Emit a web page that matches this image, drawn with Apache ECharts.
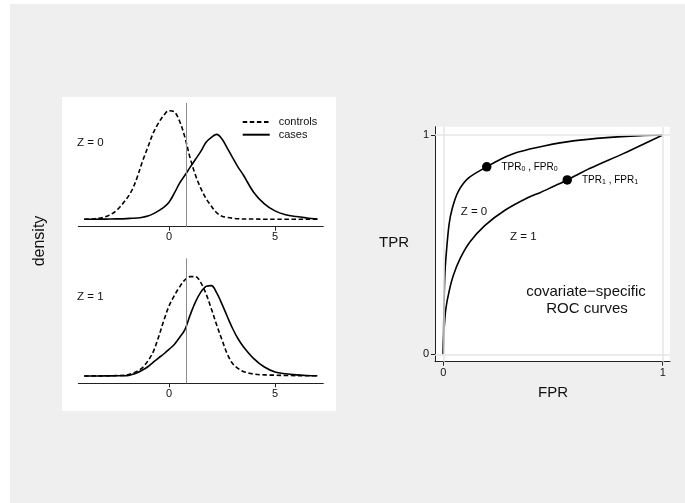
<!DOCTYPE html>
<html><head><meta charset="utf-8">
<script src="https://cdn.jsdelivr.net/npm/echarts@6/dist/echarts.min.js"></script>
<style>html,body{margin:0;padding:0;background:#fff}#c{width:685px;height:503px}</style>
</head><body><div id="c"></div>
<script>
// ---- data ----
const densX = [-4,-3.5,-3,-2.5,-2,-1.75,-1.5,-1.25,-1,-0.75,-0.5,-0.25,0,0.25,0.5,0.75,1,1.25,1.5,1.75,2,2.25,2.5,2.75,3,3.25,3.5,4,4.5,5,5.5,6,6.5,7];
const controlsZ0 = [0,0.002,0.009,0.031,0.076,0.107,0.155,0.214,0.265,0.317,0.354,0.383,0.400,0.396,0.361,0.302,0.225,0.162,0.114,0.076,0.048,0.024,0.011,0.007,0.004,0.002,0.001,0.001,0,0,0,0,0,0];
const casesZ0 = [0,0.0004,0.0007,0.0015,0.0026,0.0037,0.0048,0.0074,0.012,0.020,0.031,0.044,0.063,0.096,0.133,0.162,0.192,0.221,0.250,0.284,0.302,0.313,0.296,0.262,0.227,0.193,0.164,0.099,0.057,0.031,0.017,0.010,0.005,0.001];
const controlsZ1 = [0,0.0004,0.0007,0.0015,0.0033,0.0092,0.018,0.031,0.055,0.088,0.142,0.203,0.258,0.296,0.328,0.354,0.366,0.366,0.344,0.302,0.247,0.188,0.133,0.081,0.046,0.028,0.017,0.007,0.004,0.003,0.002,0.0015,0.001,0.001];
const casesZ1 = [0,0,0.0004,0.0007,0.0015,0.0055,0.012,0.022,0.034,0.050,0.066,0.081,0.098,0.116,0.142,0.171,0.225,0.273,0.309,0.330,0.333,0.306,0.265,0.219,0.175,0.138,0.109,0.064,0.033,0.015,0.008,0.004,0.002,0.001];
const threshold = 0.8;
const densTickValues = [0, 5];

const rocFPR0 = [0,0.002,0.004,0.007,0.012,0.026,0.041,0.068,0.114,0.198,0.266,0.342,0.464,0.592,0.745,0.897,1];
const rocTPR0 = [0,0.15,0.26,0.36,0.44,0.59,0.666,0.742,0.803,0.855,0.892,0.922,0.951,0.973,0.988,0.997,1];
const rocFPR1 = [0,0.002,0.005,0.012,0.026,0.046,0.076,0.122,0.19,0.281,0.387,0.441,0.501,0.565,0.669,0.82,1];
const rocTPR1 = [0,0.08,0.134,0.21,0.285,0.36,0.435,0.513,0.588,0.657,0.715,0.737,0.765,0.795,0.848,0.915,1];
const pointFPR = [0.198, 0.565];
const pointTPR = [0.855, 0.795];
const pointLabels = ['{n|TPR}{s|0}{n| , FPR}{s|0}', '{n|TPR}{s|1}{n| , FPR}{s|1}'];
const rocTickValues = [0, 1];

// ---- chart ----
const FONT = '"Liberation Sans", Arial, Helvetica, sans-serif';
const TXT = '#111';
const pairs = (xs, ys) => xs.map((x, i) => [x, ys[i]]);

const densXAxis = (gi) => ({
  type: 'value', gridIndex: gi, min: -4.28, max: 7.28,
  axisLine: { show: true, onZero: false, lineStyle: { color: '#222', width: 1 } },
  axisTick: { show: true, customValues: densTickValues, length: 4, lineStyle: { color: '#222' } },
  axisLabel: { customValues: densTickValues, color: TXT, fontSize: 11, fontFamily: FONT, margin: 5 },
  splitLine: { show: false }
});
const densYAxis = (gi, min, max) => ({ type: 'value', gridIndex: gi, min, max, show: false,
  axisLine: { onZero: false }, splitLine: { show: false } });

const densLine = (name, ys, gi, dashed, withMark) => {
  const s = {
    type: 'line', name, xAxisIndex: gi, yAxisIndex: gi, data: pairs(densX, ys),
    smooth: 0.35, symbol: 'none', showSymbol: false, z: 3,
    lineStyle: { color: '#000', width: 1.6, type: dashed ? [4.5, 2.6] : 'solid' },
    itemStyle: { color: '#000' }
  };
  if (withMark) s.markLine = {
    silent: true, symbol: 'none', label: { show: false },
    lineStyle: { color: '#8c8c8c', width: 1, type: 'solid' },
    data: [{ xAxis: threshold }]
  };
  return s;
};

const option = {
  animation: false,
  backgroundColor: '#fff',
  textStyle: { fontFamily: FONT },
  grid: [
    { left: 78.3, top: 103, width: 245, height: 123.7 },
    { left: 78.3, top: 258.3, width: 245, height: 125 },
    { left: 435, top: 126.7, width: 235, height: 235, show: true, backgroundColor: '#fff', borderWidth: 0 }
  ],
  xAxis: [
    densXAxis(0), densXAxis(1),
    { type: 'value', gridIndex: 2, min: -0.0378, max: 1.0333,
      axisLine: { show: true, onZero: false, lineStyle: { color: '#222', width: 1 } },
      axisTick: { show: true, customValues: rocTickValues, length: 4, lineStyle: { color: '#222' } },
      axisLabel: { customValues: rocTickValues, color: TXT, fontSize: 11, fontFamily: FONT, margin: 6 },
      splitLine: { show: false } }
  ],
  yAxis: [
    densYAxis(0, -0.0273, 0.4284), densYAxis(1, -0.0269, 0.4335),
    { type: 'value', gridIndex: 2, min: -0.0337, max: 1.0378,
      axisLine: { show: true, onZero: false, lineStyle: { color: '#222', width: 1 } },
      axisTick: { show: true, customValues: rocTickValues, length: 4, lineStyle: { color: '#222' } },
      axisLabel: { customValues: rocTickValues, color: TXT, fontSize: 11, fontFamily: FONT, margin: 6 },
      splitLine: { show: false } }
  ],
  legend: {
    orient: 'vertical', left: 241.7, top: 116.5, padding: 0,
    itemWidth: 27, itemHeight: 10, itemGap: 1.7,
    itemStyle: { opacity: 0, borderWidth: 0 },
    textStyle: { color: TXT, fontSize: 11, fontFamily: FONT, lineHeight: 10, padding: [0, 0, 0, 4] },
    data: ['controls', 'cases']
  },
  series: [
    densLine('controls', controlsZ0, 0, true, true),
    densLine('cases', casesZ0, 0, false, false),
    densLine('controls', controlsZ1, 1, true, true),
    densLine('cases', casesZ1, 1, false, false),
    { type: 'scatter', xAxisIndex: 2, yAxisIndex: 2, data: [[0, 0]], symbolSize: 0, z: 1, silent: true,
      markLine: { silent: true, symbol: 'none', label: { show: false },
        lineStyle: { color: '#e6e6e6', width: 1.5, type: 'solid' },
        data: [{ xAxis: 0 }, { xAxis: 1 }, { yAxis: 0 }, { yAxis: 1 }] } },
    { type: 'line', name: 'ROC Z=0', xAxisIndex: 2, yAxisIndex: 2, data: pairs(rocFPR0, rocTPR0),
      smooth: 0.3, symbol: 'none', z: 3, lineStyle: { color: '#000', width: 1.6 } },
    { type: 'line', name: 'ROC Z=1', xAxisIndex: 2, yAxisIndex: 2, data: pairs(rocFPR1, rocTPR1),
      smooth: 0.3, symbol: 'none', z: 3, lineStyle: { color: '#000', width: 1.6 } },
    { type: 'scatter', xAxisIndex: 2, yAxisIndex: 2, symbolSize: 9.5, z: 4,
      itemStyle: { color: '#000', opacity: 1 },
      data: pointFPR.map((x, i) => ({ value: [x, pointTPR[i]],
        label: { show: true, position: 'right', distance: 10, formatter: pointLabels[i],
          rich: { n: { fontSize: 10, color: '#000', fontFamily: FONT, lineHeight: 12 },
                  s: { fontSize: 7, color: '#000', fontFamily: FONT, lineHeight: 7, verticalAlign: 'bottom' } } } })) }
  ],
  graphic: [
    { type: 'rect', z: -10, silent: true, shape: { x: 10, y: 4, width: 675, height: 499 }, style: { fill: '#efefef' } },
    { type: 'rect', z: -9, silent: true, shape: { x: 62, y: 97, width: 274, height: 314 }, style: { fill: '#fff' } },
    { type: 'text', x: 40, y: 241, rotation: Math.PI / 2, style: { text: 'density', font: '16px ' + FONT, fill: TXT, align: 'center', verticalAlign: 'middle' } },
    { type: 'text', x: 77, y: 142.7, style: { text: 'Z = 0', font: '11.5px ' + FONT, fill: TXT, align: 'left', verticalAlign: 'middle' } },
    { type: 'text', x: 77, y: 297.3, style: { text: 'Z = 1', font: '11.5px ' + FONT, fill: TXT, align: 'left', verticalAlign: 'middle' } },
    { type: 'text', x: 460.7, y: 211.7, style: { text: 'Z = 0', font: '11.5px ' + FONT, fill: TXT, align: 'left', verticalAlign: 'middle' } },
    { type: 'text', x: 510, y: 236.7, style: { text: 'Z = 1', font: '11.5px ' + FONT, fill: TXT, align: 'left', verticalAlign: 'middle' } },
    { type: 'text', x: 586, y: 291.7, style: { text: 'covariate\u2212specific', font: '15px ' + FONT, fill: TXT, align: 'center', verticalAlign: 'middle' } },
    { type: 'text', x: 587, y: 309.3, style: { text: 'ROC curves', font: '15px ' + FONT, fill: TXT, align: 'center', verticalAlign: 'middle' } },
    { type: 'text', x: 394, y: 243.3, style: { text: 'TPR', font: '15px ' + FONT, fill: TXT, align: 'center', verticalAlign: 'middle' } },
    { type: 'text', x: 553, y: 393.3, style: { text: 'FPR', font: '15px ' + FONT, fill: TXT, align: 'center', verticalAlign: 'middle' } }
  ]
};
const chart = echarts.init(document.getElementById('c'));
chart.setOption(option);
</script>
</body></html>
